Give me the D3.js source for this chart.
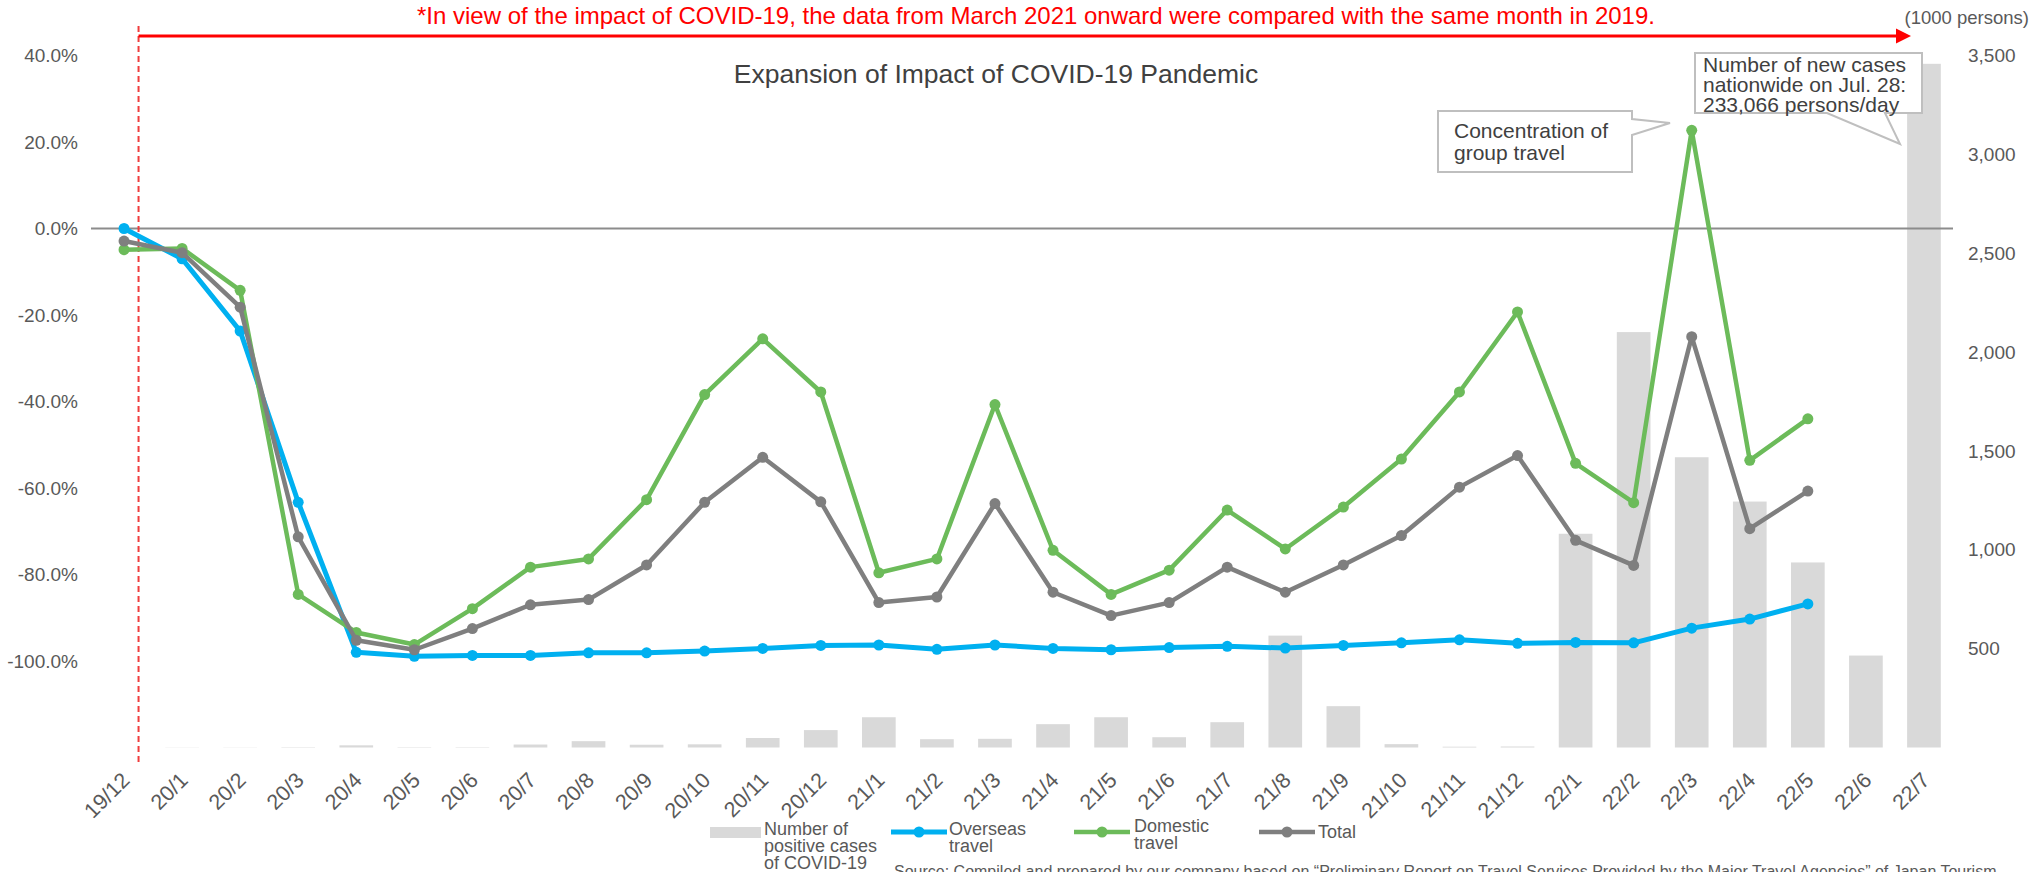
<!DOCTYPE html>
<html>
<head>
<meta charset="utf-8">
<script src="https://cdn.jsdelivr.net/npm/d3@7/dist/d3.min.js"></script>
<style>
  html, body { margin: 0; padding: 0; background: #fff; }
  svg { display: block; font-family: "Liberation Sans", Arial, sans-serif; }
</style>
</head>
<body>
<svg id="chart" width="2033" height="872"></svg>
<script>
// Months (yy/m)
const categories = ["19/12","20/1","20/2","20/3","20/4","20/5","20/6","20/7","20/8","20/9","20/10","20/11","20/12",
  "21/1","21/2","21/3","21/4","21/5","21/6","21/7","21/8","21/9","21/10","21/11","21/12",
  "22/1","22/2","22/3","22/4","22/5","22/6","22/7"];

// Positive COVID-19 cases per month (1000 persons), right axis
const positiveCases = [0, 1, 1, 2, 11, 2, 2, 15, 32, 14, 16, 48, 88,
  153, 42, 44, 118, 153, 52, 128, 566, 209, 17, 4, 5,
  1081, 2101, 1468, 1244, 936, 465, 3458];

// Year-on-year change in travel sales (%), left axis
const overseasTravel = [0.0, -7.0, -23.7, -63.3, -98.0, -98.9, -98.7, -98.7, -98.1, -98.1, -97.7, -97.1, -96.4,
  -96.3, -97.3, -96.3, -97.1, -97.4, -96.9, -96.6, -97.0, -96.4, -95.8, -95.1, -95.9,
  -95.7, -95.8, -92.4, -90.3, -86.8];
const domesticTravel = [-4.9, -4.6, -14.3, -84.6, -93.4, -96.2, -87.9, -78.3, -76.4, -62.7, -38.4, -25.5, -37.8,
  -79.6, -76.4, -40.7, -74.4, -84.6, -79.0, -65.1, -74.1, -64.4, -53.3, -37.8, -19.3,
  -54.3, -63.4, 22.7, -53.6, -44.0];
const totalTravel = [-2.9, -5.6, -18.2, -71.3, -95.2, -97.4, -92.5, -87.0, -85.8, -77.8, -63.3, -52.9, -63.2,
  -86.5, -85.2, -63.6, -84.1, -89.5, -86.5, -78.3, -84.1, -77.8, -71.0, -59.8, -52.5,
  -72.1, -77.9, -25.0, -69.4, -60.7];

const leftTicks = [40, 20, 0, -20, -40, -60, -80, -100];
const rightTicks = [500, 1000, 1500, 2000, 2500, 3000, 3500];

const seriesList = [
  { name: ["Overseas", "travel"], values: overseasTravel, color: "#00b0f0", width: 5 },
  { name: ["Domestic", "travel"], values: domesticTravel, color: "#6cbb5a", width: 4.5 },
  { name: ["Total"], values: totalTravel, color: "#7f7f7f", width: 4.5 }
];

const textGray = "#595959";
const svg = d3.select("#chart");

const plot = { left: 95, right: 1953, top: 55.5, bottom: 747.5 };

const x = d3.scaleBand().domain(categories).range([plot.left, plot.right])
  .paddingInner(0.42).paddingOuter(0.21);
const cx = d => x(d) + x.bandwidth() / 2;
const yL = d3.scaleLinear().domain([-120, 40]).range([plot.bottom, plot.top]);
const yR = d3.scaleLinear().domain([0, 3500]).range([plot.bottom, plot.top]);

// Bars: positive cases
svg.append("g").selectAll("rect").data(categories).join("rect")
  .attr("x", d => x(d))
  .attr("width", x.bandwidth())
  .attr("y", (d, i) => yR(positiveCases[i]))
  .attr("height", (d, i) => plot.bottom - yR(positiveCases[i]))
  .attr("fill", "#d9d9d9");

// Zero line
svg.append("line")
  .attr("x1", plot.left - 4).attr("x2", plot.right)
  .attr("y1", yL(0)).attr("y2", yL(0))
  .attr("stroke", "#8c8c8c").attr("stroke-width", 2);

// Left axis
const axL = svg.append("g").attr("transform", `translate(${plot.left},0)`)
  .call(d3.axisLeft(yL).tickValues(leftTicks).tickSize(0).tickPadding(17)
    .tickFormat(d => d.toFixed(1) + "%"));
axL.select(".domain").remove();
axL.selectAll("text").attr("fill", textGray).attr("font-size", 19)
  .style("font-family", "'Liberation Sans', Arial, sans-serif");

// Right axis
const axR = svg.append("g").attr("transform", `translate(${plot.right},0)`)
  .call(d3.axisRight(yR).tickValues(rightTicks).tickSize(0).tickPadding(15)
    .tickFormat(d3.format(",")));
axR.select(".domain").remove();
axR.selectAll("text").attr("fill", textGray).attr("font-size", 19)
  .style("font-family", "'Liberation Sans', Arial, sans-serif");

// Category axis with rotated labels
const axX = svg.append("g").attr("transform", `translate(0,${plot.bottom})`)
  .call(d3.axisBottom(x).tickSize(0));
axX.select(".domain").remove();
axX.selectAll("text")
  .attr("fill", textGray).attr("font-size", 21.5)
  .style("font-family", "'Liberation Sans', Arial, sans-serif")
  .attr("text-anchor", "end")
  .attr("x", 0).attr("y", 0).attr("dy", 0)
  .attr("transform", "translate(7,34) rotate(-45)");

// Period marker: dashed vertical and arrow
const markX = cx("19/12") + x.step() / 4;
svg.append("line")
  .attr("x1", markX).attr("x2", markX).attr("y1", 26).attr("y2", 765)
  .attr("stroke", "#f03c3c").attr("stroke-width", 2).attr("stroke-dasharray", "6,4");
svg.append("line")
  .attr("x1", markX).attr("x2", 1898).attr("y1", 36).attr("y2", 36)
  .attr("stroke", "#ff0000").attr("stroke-width", 3);
svg.append("path")
  .attr("d", "M1896,28.5 L1911,36 L1896,43.5 Z").attr("fill", "#ff0000");
svg.append("text")
  .attr("x", 1036).attr("y", 23.5).attr("text-anchor", "middle")
  .attr("font-size", 24).attr("fill", "#ff0000")
  .text("*In view of the impact of COVID-19, the data from March 2021 onward were compared with the same month in 2019.");

svg.append("text")
  .attr("x", 2029).attr("y", 24).attr("text-anchor", "end")
  .attr("font-size", 18.5).attr("fill", textGray)
  .text("(1000 persons)");

// Chart title
svg.append("text")
  .attr("x", 996).attr("y", 83).attr("text-anchor", "middle")
  .attr("font-size", 26.5).attr("fill", "#404040")
  .text("Expansion of Impact of COVID-19 Pandemic");

// Lines with markers
const line = d3.line().x((v, i) => cx(categories[i])).y(v => yL(v));
seriesList.forEach(s => {
  const g = svg.append("g");
  g.append("path").datum(s.values)
    .attr("d", line).attr("fill", "none")
    .attr("stroke", s.color).attr("stroke-width", s.width)
    .attr("stroke-linejoin", "round");
  g.selectAll("circle").data(s.values).join("circle")
    .attr("cx", (v, i) => cx(categories[i]))
    .attr("cy", v => yL(v))
    .attr("r", 5.5)
    .attr("fill", s.color);
});

// Callouts
const callout = (d, lines, tx, ty, lh) => {
  svg.append("path").attr("d", d)
    .attr("fill", "#fff").attr("stroke", "#bfbfbf").attr("stroke-width", 2)
    .attr("stroke-linejoin", "miter");
  const t = svg.append("text").attr("font-size", 21).attr("fill", "#404040");
  lines.forEach((ln, k) => t.append("tspan").attr("x", tx).attr("y", ty + k * lh).text(ln));
};
callout("M1438,111 H1632 V119 L1670,123 L1632,135 V172 H1438 Z",
  ["Concentration of", "group travel"], 1454, 138, 22);
callout("M1695,53 H1922 V113 H1885 L1900,144 L1827,113 H1695 Z",
  ["Number of new cases", "nationwide on Jul. 28:", "233,066 persons/day"], 1703, 72, 20);

// Legend (equal-width entries)
const legend = svg.append("g").attr("font-size", 18).attr("fill", textGray);
legend.append("rect").attr("x", 710).attr("y", 827).attr("width", 51).attr("height", 11).attr("fill", "#d9d9d9");
const multi = (lines, tx, ty) => {
  const t = legend.append("text");
  lines.forEach((ln, k) => t.append("tspan").attr("x", tx).attr("y", ty + k * 17).text(ln));
};
multi(["Number of", "positive cases", "of COVID-19"], 764, 835);
const legendItems = [
  { s: seriesList[0], x0: 891, tx: 949, ty: 835 },
  { s: seriesList[1], x0: 1074, tx: 1134, ty: 832 },
  { s: seriesList[2], x0: 1259, tx: 1318, ty: 838 }
];
legendItems.forEach(it => {
  legend.append("line").attr("x1", it.x0).attr("x2", it.x0 + 56)
    .attr("y1", 832).attr("y2", 832)
    .attr("stroke", it.s.color).attr("stroke-width", it.s.width);
  legend.append("circle").attr("cx", it.x0 + 28).attr("cy", 832).attr("r", 5.5).attr("fill", it.s.color);
  multi(it.s.name, it.tx, it.ty);
});

// Source note
svg.append("text")
  .attr("x", 894).attr("y", 877)
  .attr("font-size", 16).attr("fill", textGray)
  .text("Source: Compiled and prepared by our company based on \u201cPreliminary Report on Travel Services Provided by the Major Travel Agencies\u201d of Japan Tourism");
</script>
</body>
</html>
